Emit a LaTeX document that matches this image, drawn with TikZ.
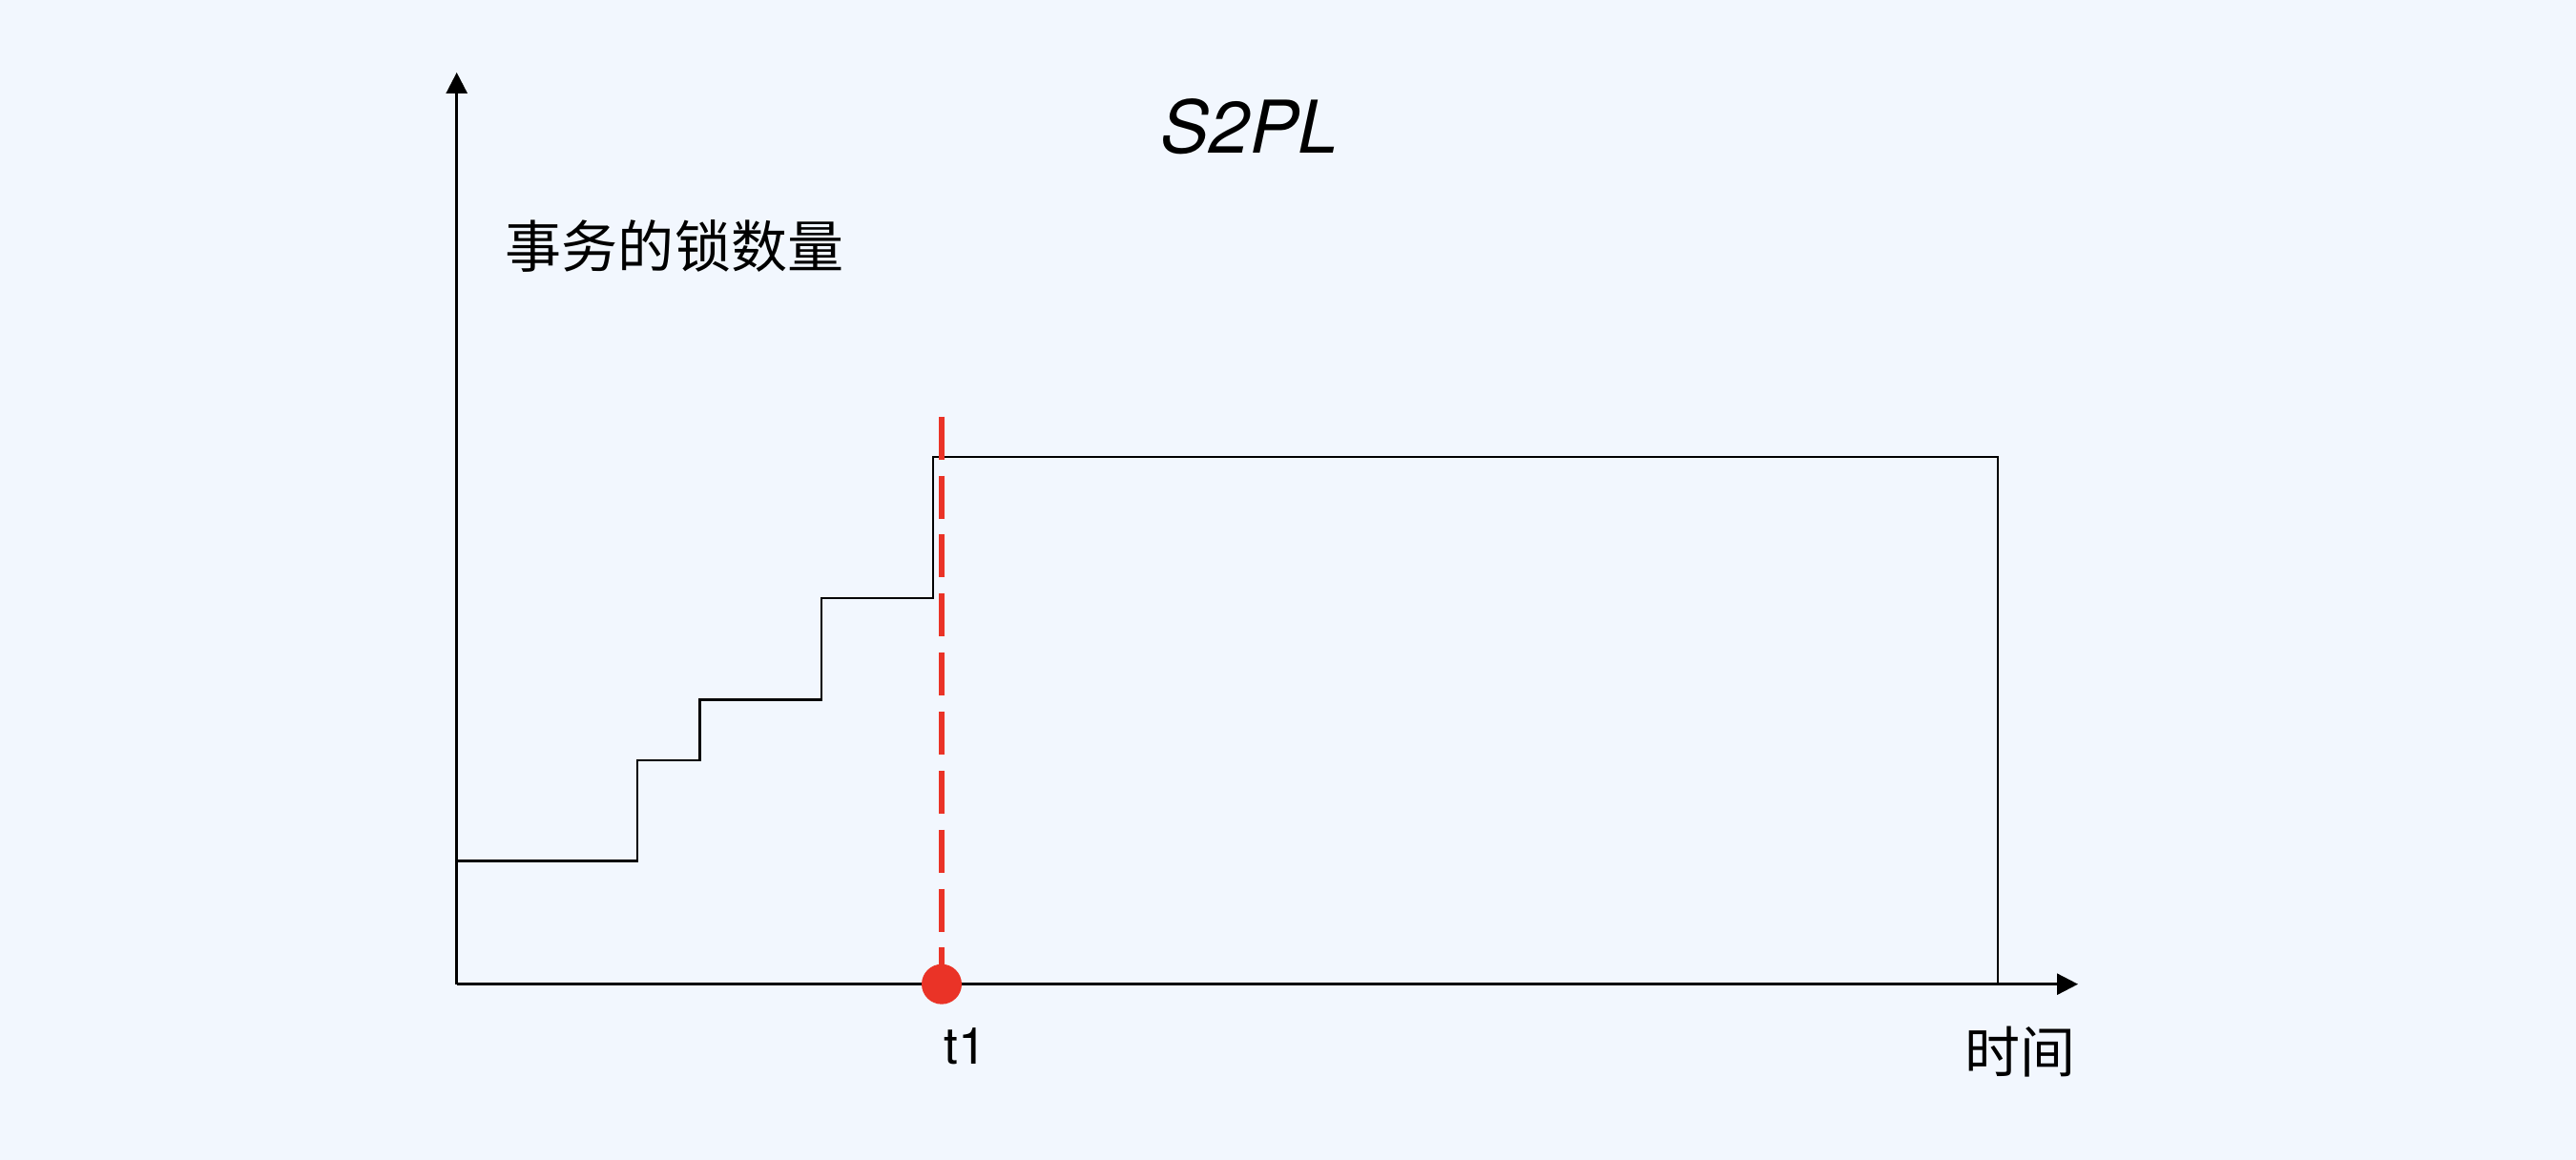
\documentclass[tikz,border=0pt]{standalone}
\usepackage{fontspec}
\setmainfont{TeX Gyre Heros}
\newfontfamily\cjk{Noto Sans CJK SC}
\usepackage{tikz}
\usetikzlibrary{arrows.meta}
\usetikzlibrary{positioning}
\definecolor{bgblue}{RGB}{242,247,254}
\definecolor{lockred}{RGB}{234,51,39}
\tikzset{>={Triangle[length=6.2pt,width=6.2pt]},
         axis/.style = {line width=0.75pt},
         steps/.style = {line width=0.7pt, line join=miter},
         cut/.style = {lockred, line width=1.6pt, dash pattern=on 12.8pt off 4.8pt}}

\begin{document}
\begin{tikzpicture}
      \fill [bgblue] (0, 0) rectangle (27, 12.16);
      \coordinate (O) at (4.787, 1.843);
      \coordinate (ytip) at (4.787, 11.40);
      \coordinate (xtip) at (21.78, 1.843);
      \draw [axis, ->] (O) -- (ytip);
      \draw [axis, ->] (O) -- (xtip);
      \draw [steps] (4.787, 3.137) -- (6.681, 3.137) -- (6.681, 4.188) -- (7.335, 4.188)
            -- (7.335, 4.825) -- (8.61, 4.825) -- (8.61, 5.892) -- (9.78, 5.892)
            -- (9.78, 7.37) -- (20.938, 7.37) -- (20.938, 1.843);
      \coordinate (cuttop) at (9.87, 7.793);
      \node [circle, fill=lockred, inner sep=0pt, minimum size=0.42cm] (t1dot) at (9.87, 1.843) {};
      \draw [cut] (cuttop) -- (t1dot.center);
      \node [font=\fontsize{21.7pt}{26pt}\selectfont\itshape] (title) at (13.10, 10.835) {S2PL};
      \node [font=\fontsize{16.8pt}{20pt}\selectfont\cjk] (ylabel) at (7.07, 9.58) {事务的锁数量};
      \node [font=\fontsize{15.2pt}{18pt}\selectfont] (t1) at (10.12, 1.19) {t1};
      \node [font=\fontsize{16.5pt}{20pt}\selectfont\cjk] (xlabel) at (21.17, 1.135) {时间};
    \end{tikzpicture}
\end{document}
